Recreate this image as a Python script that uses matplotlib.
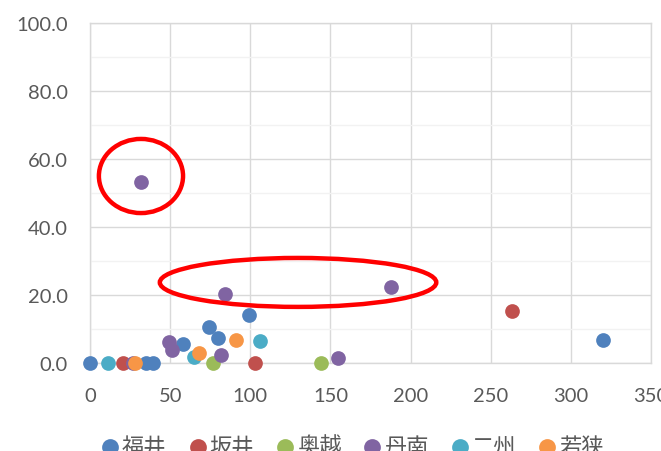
import matplotlib.pyplot as plt
from matplotlib.patches import Ellipse
from matplotlib.ticker import MultipleLocator, FormatStrFormatter

plt.rcParams['font.family'] = ['Lato', 'Noto Sans CJK JP', 'DejaVu Sans']

# series data (x, y)
series_names = ['福井', '坂井', '奥越', '丹南', '二州', '若狭']
series_colors = ['#4F81BD', '#C0504D', '#9BBB59', '#8064A2', '#4BACC6', '#F79646']

fukui_x = [0, 35, 39, 58, 74, 80, 99, 320]
fukui_y = [0, 0, 0, 5.5, 10.7, 7.4, 14.0, 6.7]
sakai_x = [20.5, 103, 263]
sakai_y = [0, 0, 15.3]
okuetsu_x = [77, 144]
okuetsu_y = [0, 0]
tannan_x = [32, 27, 49, 51, 84, 82, 188, 155]
tannan_y = [53.2, 0, 6.3, 3.8, 20.3, 2.4, 22.5, 1.6]
nishu_x = [11, 65, 106]
nishu_y = [0, 1.7, 6.4]
wakasa_x = [28, 68, 91]
wakasa_y = [0, 2.9, 6.8]

xs = [fukui_x, sakai_x, okuetsu_x, tannan_x, nishu_x, wakasa_x]
ys = [fukui_y, sakai_y, okuetsu_y, tannan_y, nishu_y, wakasa_y]

fig = plt.figure(figsize=(6.61, 4.52), dpi=100)
ax = fig.add_axes([90 / 661, 1 - 364 / 452, 561 / 661, 340 / 452])

for name, color, x, y in zip(series_names, series_colors, xs, ys):
    ax.scatter(x, y, s=112, color=color, label=name, zorder=3,
               linewidths=0, clip_on=False)

# red highlight ellipses
ax.add_patch(Ellipse((31.8, 55.0), 52.5, 21.8, fill=False, edgecolor='#FF0000',
                     linewidth=3.2, zorder=4, clip_on=False))
ax.add_patch(Ellipse((129.8, 23.7), 172.5, 14.4, fill=False, edgecolor='#FF0000',
                     linewidth=3.2, zorder=4, clip_on=False))

ax.set_xlim(0, 350)
ax.set_ylim(0, 100)
ax.xaxis.set_major_locator(MultipleLocator(50))
ax.yaxis.set_major_locator(MultipleLocator(20))
ax.yaxis.set_minor_locator(MultipleLocator(10))
ax.yaxis.set_major_formatter(FormatStrFormatter('%.1f'))
ax.grid(True, which='major', color='#D9D9D9', linewidth=1.0, zorder=0)
ax.grid(True, which='minor', axis='y', color='#F2F2F2', linewidth=1.0, zorder=0)
ax.set_axisbelow(True)
ax.tick_params(which='both', length=0, labelsize=14.5, labelcolor='#595959')
ax.tick_params(axis='x', pad=17.5)
ax.tick_params(axis='y', pad=16)
for s in ax.spines.values():
    s.set_color('#D9D9D9')
    s.set_linewidth(1.0)

fig.legend(loc='center', bbox_to_anchor=(0.533, 0.011), ncol=6, frameon=False,
           fontsize=16, handletextpad=0.13, columnspacing=1.0, markerscale=1.14,
           labelcolor='#595959', handlelength=0.8)

fig.savefig('out.png', dpi=100)
